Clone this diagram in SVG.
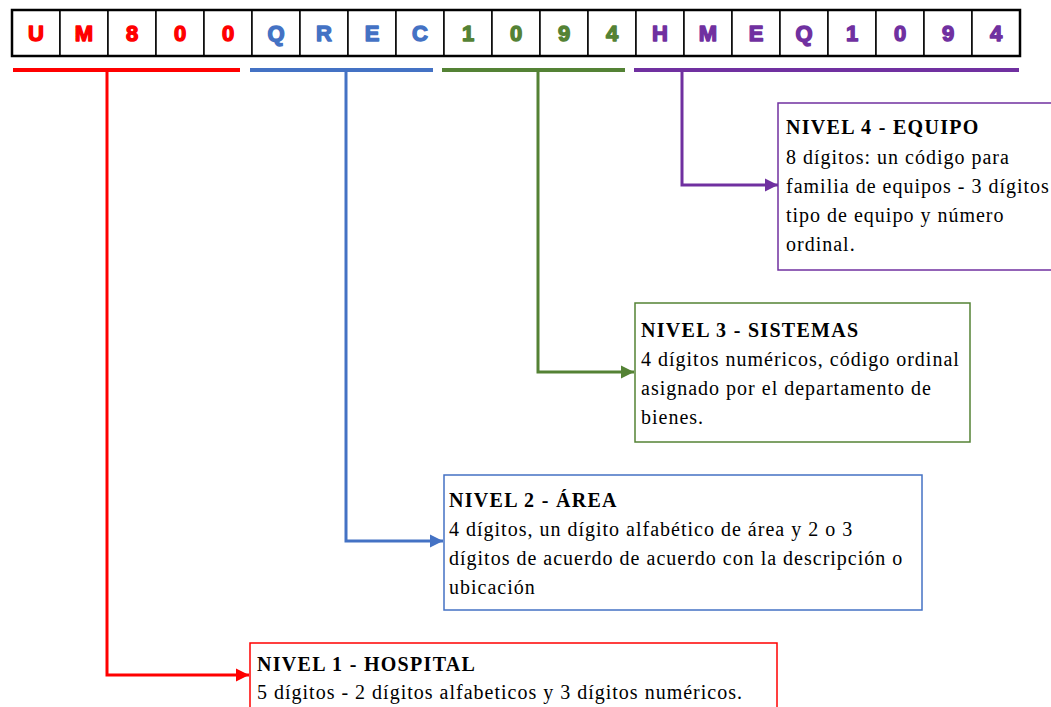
<svg xmlns="http://www.w3.org/2000/svg" width="1051" height="707" viewBox="0 0 1051 707">
<style>
.c{font-family:"Liberation Sans",Arial,sans-serif;font-weight:bold;font-size:22px;text-anchor:middle;stroke-width:1.4;stroke-linejoin:round}
.r{fill:#FF0000;stroke:#FF0000}.b{fill:#4472C4;stroke:#4472C4}.g{fill:#548235;stroke:#548235}.p{fill:#7030A0;stroke:#7030A0}
.t{font-family:"Liberation Serif","Times New Roman",serif;font-size:20px;fill:#000;letter-spacing:1px}
.h{font-weight:bold;letter-spacing:1.3px}
.cell{fill:#fff;stroke:#000;stroke-width:1.5}
.box{fill:#fff;stroke-width:1.5}
.ln{fill:none;stroke-width:3}
</style>
<defs>
<marker id="ar" viewBox="0 0 10 10" refX="10" refY="5" markerWidth="4.5" markerHeight="4.5" orient="auto" markerUnits="strokeWidth"><path d="M0,0L10,5L0,10z" fill="#FF0000"/></marker>
<marker id="ab" viewBox="0 0 10 10" refX="10" refY="5" markerWidth="4.5" markerHeight="4.5" orient="auto" markerUnits="strokeWidth"><path d="M0,0L10,5L0,10z" fill="#4472C4"/></marker>
<marker id="ag" viewBox="0 0 10 10" refX="10" refY="5" markerWidth="4.5" markerHeight="4.5" orient="auto" markerUnits="strokeWidth"><path d="M0,0L10,5L0,10z" fill="#548235"/></marker>
<marker id="ap" viewBox="0 0 10 10" refX="10" refY="5" markerWidth="4.5" markerHeight="4.5" orient="auto" markerUnits="strokeWidth"><path d="M0,0L10,5L0,10z" fill="#7030A0"/></marker>
</defs>
<rect width="1051" height="707" fill="#fff"/>
<g id="code">
<rect class="cell" x="12" y="10" width="48" height="46"/><rect class="cell" x="60" y="10" width="48" height="46"/><rect class="cell" x="108" y="10" width="48" height="46"/><rect class="cell" x="156" y="10" width="48" height="46"/><rect class="cell" x="204" y="10" width="48" height="46"/><rect class="cell" x="252" y="10" width="48" height="46"/><rect class="cell" x="300" y="10" width="48" height="46"/><rect class="cell" x="348" y="10" width="48" height="46"/><rect class="cell" x="396" y="10" width="48" height="46"/><rect class="cell" x="444" y="10" width="48" height="46"/><rect class="cell" x="492" y="10" width="48" height="46"/><rect class="cell" x="540" y="10" width="48" height="46"/><rect class="cell" x="588" y="10" width="48" height="46"/><rect class="cell" x="636" y="10" width="48" height="46"/><rect class="cell" x="684" y="10" width="48" height="46"/><rect class="cell" x="732" y="10" width="48" height="46"/><rect class="cell" x="780" y="10" width="48" height="46"/><rect class="cell" x="828" y="10" width="48" height="46"/><rect class="cell" x="876" y="10" width="48" height="46"/><rect class="cell" x="924" y="10" width="48" height="46"/><rect class="cell" x="972" y="10" width="48" height="46"/>
<rect x="12" y="10" width="1008" height="46" fill="none" stroke="#000" stroke-width="2.5"/>
<text class="c r" x="36" y="41">U</text><text class="c r" x="84" y="41">M</text><text class="c r" x="132" y="41">8</text><text class="c r" x="180" y="41">0</text><text class="c r" x="228" y="41">0</text>
<text class="c b" x="276" y="41">Q</text><text class="c b" x="324" y="41">R</text><text class="c b" x="372" y="41">E</text><text class="c b" x="420" y="41">C</text>
<text class="c g" x="468" y="41">1</text><text class="c g" x="516" y="41">0</text><text class="c g" x="564" y="41">9</text><text class="c g" x="612" y="41">4</text>
<text class="c p" x="660" y="41">H</text><text class="c p" x="708" y="41">M</text><text class="c p" x="756" y="41">E</text><text class="c p" x="804" y="41">Q</text><text class="c p" x="852" y="41">1</text><text class="c p" x="900" y="41">0</text><text class="c p" x="948" y="41">9</text><text class="c p" x="996" y="41">4</text>
</g>
<g id="connectors">
<line x1="13" y1="70" x2="240" y2="70" stroke="#FF0000" stroke-width="4"/>
<line x1="250" y1="70" x2="433" y2="70" stroke="#4472C4" stroke-width="4"/>
<line x1="442" y1="70" x2="625" y2="70" stroke="#548235" stroke-width="4"/>
<line x1="634" y1="70" x2="1019" y2="70" stroke="#7030A0" stroke-width="4"/>
<path class="ln" d="M107,70V675H249" stroke="#FF0000" marker-end="url(#ar)"/>
<path class="ln" d="M346,70V541H443" stroke="#4472C4" marker-end="url(#ab)"/>
<path class="ln" d="M538,70V372H634" stroke="#548235" marker-end="url(#ag)"/>
<path class="ln" d="M682,70V185H778" stroke="#7030A0" marker-end="url(#ap)"/>
</g>
<g id="nivel4">
<rect class="box" x="778" y="103" width="276" height="167" stroke="#7030A0"/>
<text class="t h" x="786" y="134">NIVEL 4 - EQUIPO</text>
<text class="t" x="786" y="164">8 dígitos: un código para</text>
<text class="t" x="786" y="193">familia de equipos - 3 dígitos</text>
<text class="t" x="786" y="222">tipo de equipo y número</text>
<text class="t" x="786" y="251">ordinal.</text>
</g>
<g id="nivel3">
<rect class="box" x="635" y="303" width="335" height="139" stroke="#548235"/>
<text class="t h" x="641" y="337">NIVEL 3 - SISTEMAS</text>
<text class="t" x="641" y="366">4 dígitos numéricos, código ordinal</text>
<text class="t" x="641" y="395">asignado por el departamento de</text>
<text class="t" x="641" y="424">bienes.</text>
</g>
<g id="nivel2">
<rect class="box" x="444" y="475" width="478" height="135" stroke="#4472C4"/>
<text class="t h" x="449" y="507">NIVEL 2 - ÁREA</text>
<text class="t" x="449" y="536">4 dígitos, un dígito alfabético de área y 2 o 3</text>
<text class="t" x="449" y="565">dígitos de acuerdo de acuerdo con la descripción o</text>
<text class="t" x="449" y="594">ubicación</text>
</g>
<g id="nivel1">
<rect class="box" x="250" y="643" width="527" height="80" stroke="#FF0000"/>
<text class="t h" x="257" y="671">NIVEL 1 - HOSPITAL</text>
<text class="t" x="257" y="699">5 dígitos - 2 dígitos alfabeticos y 3 dígitos numéricos.</text>
</g>
</svg>
